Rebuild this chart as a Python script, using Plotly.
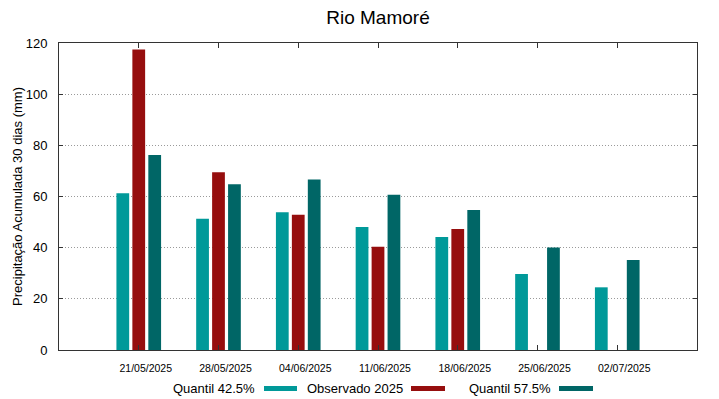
import plotly.graph_objects as go

# ---- data ----
categories = ["21/05/2025", "28/05/2025", "04/06/2025", "11/06/2025",
              "18/06/2025", "25/06/2025", "02/07/2025"]
quantil_425 = [61.3, 51.3, 53.8, 48.1, 44.2, 29.7, 24.5]
observado_2025 = [117.5, 69.5, 52.9, 40.4, 47.3, None, None]
quantil_575 = [76.2, 64.8, 66.6, 60.7, 54.7, 40.1, 35.2]
series_names = ["Quantil 42.5%", "Observado 2025", "Quantil 57.5%"]
series_colors = ["#009999", "#960e0e", "#006666"]
y_ticks = [0, 20, 40, 60, 80, 100, 120]

FONT = "Liberation Sans, Arial, sans-serif"

fig = go.Figure()
for name, vals, col in zip(series_names, [quantil_425, observado_2025, quantil_575], series_colors):
    fig.add_trace(go.Bar(x=categories, y=vals, name=name, marker_color=col,
                         marker_line_width=0, showlegend=False))

# plot area in pixels: left 59, right 697, top 43, bottom 350 (figure 719x399)
W, H = 719, 399
L, R, T, B = 59, 22, 43, 49
pw, ph = W - L - R, H - T - B

def px(x):
    return (x - L) / pw

def py(y):
    return (H - B - y) / ph

# custom legend (text left of swatch, as in reference)
legend_items = [(257, 264, 297), (405, 411, 445), (553, 559, 593)]
annotations = []
shapes = []
for (tx, sx0, sx1), name, col in zip(legend_items, series_names, series_colors):
    annotations.append(dict(x=px(tx), y=py(388.5), xref="paper", yref="paper",
                            text=name, showarrow=False, xanchor="right", yanchor="middle",
                            font=dict(family=FONT, size=13, color="#000000")))
    shapes.append(dict(type="rect", xref="paper", yref="paper",
                       x0=px(sx0), x1=px(sx1), y0=py(391), y1=py(386),
                       fillcolor=col, line=dict(width=0)))

fig.update_layout(
    width=W, height=H,
    margin=dict(l=L, r=R, t=T, b=B, pad=0),
    paper_bgcolor="white", plot_bgcolor="white",
    barmode="group", bargap=0.4, bargroupgap=0.2,
    title=dict(text="Rio Mamoré", x=(L + pw / 2) / W, xanchor="center",
               y=1 - 17 / H, yanchor="middle",
               font=dict(family=FONT, size=19, color="#000000")),
    font=dict(family=FONT, color="#000000"),
    annotations=annotations,
    shapes=shapes,
)

fig.update_xaxes(
    type="category", range=[-1, 7],
    showline=True, linecolor="#333333", linewidth=1, mirror="ticks",
    ticks="inside", ticklen=5, tickcolor="#333333",
    showgrid=False, zeroline=False,
    tickfont=dict(family=FONT, size=10.5, color="#000000"),
    ticklabelstandoff=8, ticklabelshift=7,
)
fig.update_yaxes(
    range=[0, 120], tickvals=y_ticks,
    showline=True, linecolor="#333333", linewidth=1, mirror="ticks",
    ticks="inside", ticklen=4, tickcolor="#333333",
    showgrid=True, gridcolor="#9a9a9a", griddash="1px,2px", gridwidth=1,
    zeroline=False,
    tickfont=dict(family=FONT, size=13, color="#000000"),
    ticklabelstandoff=8,
    title=dict(text="Precipitação Acumulada 30 dias (mm)", standoff=0,
               font=dict(family=FONT, size=13, color="#000000")),
)

fig.write_html("out.html",
               config={"displayModeBar": False},
               post_script="document.body.style.margin='0';document.body.style.padding='0';")
